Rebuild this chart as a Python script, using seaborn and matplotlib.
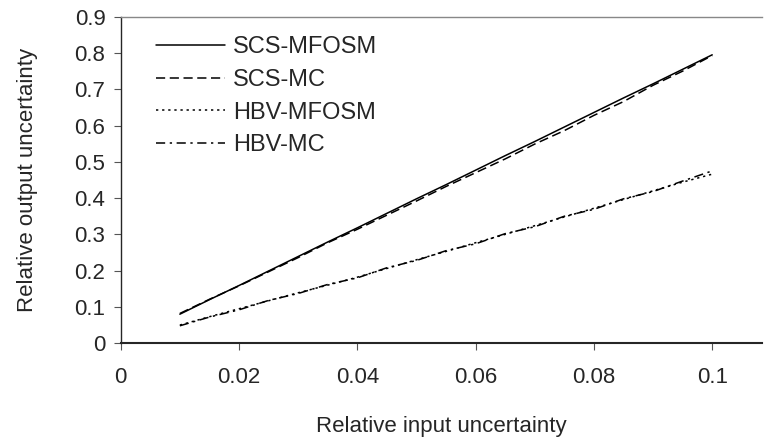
import numpy as np
import pandas as pd
import matplotlib
matplotlib.use("Agg")
import matplotlib.pyplot as plt
import seaborn as sns

x_vals = [0.010, 0.015, 0.020, 0.025, 0.030, 0.035, 0.040, 0.045, 0.050, 0.055,
          0.060, 0.065, 0.070, 0.075, 0.080, 0.085, 0.090, 0.095, 0.100]
scs_mfosm = [0.080, 0.120, 0.159, 0.199, 0.239, 0.279, 0.318, 0.358, 0.398, 0.437,
             0.477, 0.517, 0.556, 0.596, 0.636, 0.676, 0.715, 0.755, 0.795]
scs_mc = [0.082, 0.121, 0.158, 0.197, 0.236, 0.277, 0.314, 0.353, 0.392, 0.432,
          0.470, 0.508, 0.549, 0.586, 0.628, 0.666, 0.711, 0.750, 0.793]
hbv_mfosm = [0.050, 0.073, 0.095, 0.117, 0.139, 0.160, 0.182, 0.206, 0.230, 0.253,
             0.277, 0.300, 0.324, 0.348, 0.372, 0.396, 0.420, 0.444, 0.466]
hbv_mc = [0.048, 0.072, 0.092, 0.118, 0.137, 0.162, 0.180, 0.208, 0.228, 0.255,
          0.274, 0.302, 0.321, 0.350, 0.369, 0.398, 0.418, 0.447, 0.475]

series = {"SCS-MFOSM": scs_mfosm, "SCS-MC": scs_mc,
          "HBV-MFOSM": hbv_mfosm, "HBV-MC": hbv_mc}
styles = {"SCS-MFOSM": "-", "SCS-MC": (0, (6, 3)),
          "HBV-MFOSM": (0, (1.5, 2.5)), "HBV-MC": (0, (6, 3, 1.5, 3))}

sns.set_style("ticks")
plt.rcParams['font.family'] = ['Liberation Sans', 'DejaVu Sans']

fig = plt.figure(figsize=(7.64, 4.40), dpi=100)
ax = fig.add_axes([0.158, 0.22, 0.84, 0.742])

for name, vals in series.items():
    df = pd.DataFrame({"x": x_vals, "y": vals})
    sns.lineplot(data=df, x="x", y="y", ax=ax, color="black", lw=1.1,
                 linestyle=styles[name], label=name)

ax.set_xlim(0, 0.1085)
ax.set_ylim(0, 0.9)
ax.set_xticks([0, 0.02, 0.04, 0.06, 0.08, 0.1])
ax.set_xticklabels(["0", "0.02", "0.04", "0.06", "0.08", "0.1"])
ax.set_yticks(np.arange(0, 0.91, 0.1))
ax.set_yticklabels(["0"] + [f"{v:.1f}" for v in np.arange(0.1, 0.91, 0.1)])
ax.tick_params(labelsize=16, length=5, width=0.8, color="#555555", pad=6)
ax.tick_params(axis="x", pad=12)

ax.spines["right"].set_visible(False)
ax.spines["top"].set_color("#888888")
ax.spines["top"].set_linewidth(1.0)
ax.spines["left"].set_linewidth(1.0)
ax.spines["bottom"].set_linewidth(1.5)

ax.set_xlabel("Relative input uncertainty", fontsize=16, labelpad=20)
ax.set_ylabel("Relative output uncertainty", fontsize=16, labelpad=26)

leg = ax.legend(loc="upper left", frameon=False, fontsize=17, handlelength=2.9,
                handletextpad=0.35, labelspacing=0.45,
                bbox_to_anchor=(0.022, 1.005))

fig.savefig("out.png", dpi=100)
